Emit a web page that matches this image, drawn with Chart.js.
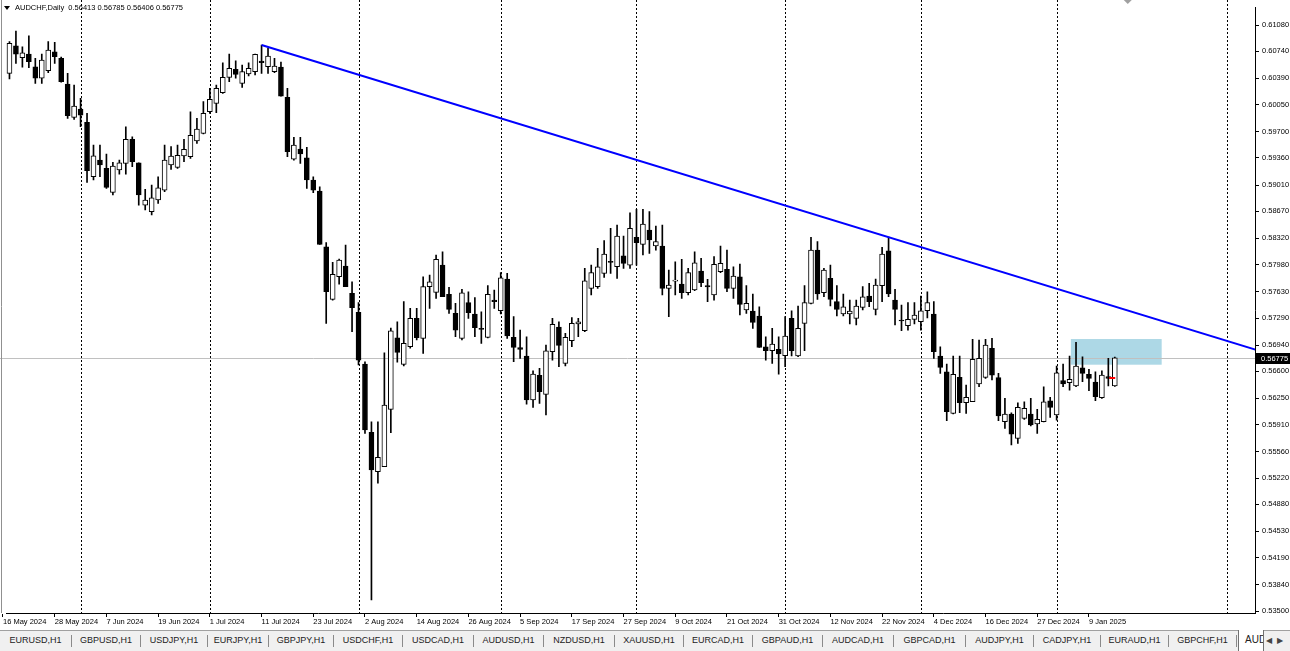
<!doctype html>
<html lang="en">
<head>
<meta charset="utf-8">
<title>AUDCHF,Daily</title>
<script src="https://cdn.jsdelivr.net/npm/chart.js@4.4.1/dist/chart.umd.min.js"></script>
<style>
  html, body { margin: 0; padding: 0; background: #fff; }
  #wrap { position: relative; width: 1290px; height: 651px; overflow: hidden; }
  #c { position: absolute; left: 0; top: 0; }
  #tabs { position: absolute; left: 0; top: 630px; width: 1290px; height: 21px; background: #f0f0f0;
          border-top: 1px solid #a0a0a0; box-sizing: border-box;
          font: 9px "Liberation Sans", Arial, sans-serif; color: #222; }
  .tab { position: absolute; top: 0; height: 20px; line-height: 19px; text-align: center; white-space: nowrap; }
  .sep { position: absolute; top: 4px; width: 1px; height: 12px; background: #8a8a8a; }
  .active { background: #fff; border-left: 1px solid #707070; border-right: 1px solid #707070; overflow: hidden;
            text-align: left; padding-left: 6px; box-sizing: border-box; top: -1px; height: 21px; font-size: 10px; }
  .arrows { position: absolute; top: 0; right: 0; width: 26px; height: 20px; line-height: 19px; font-size: 8px; color: #444; }
</style>
</head>
<body>
<div id="wrap">
  <canvas id="c" width="1290" height="630"></canvas>
  <div id="tabs"></div>
</div>
<script>
// ---- data (one entry per bar, 16 May 2024 .. 15 Jan 2025)
const symbol = 'AUDCHF';
const open = [
0.60329, 0.60455, 0.60812, 0.60656, 0.60704, 0.60540, 0.60391, 0.60489, 0.60734, 0.60648,
0.60316, 0.59886, 0.59994, 0.59821, 0.59117, 0.59333, 0.59226, 0.58916, 0.59204, 0.59291,
0.59601, 0.59298, 0.58751, 0.58665, 0.58816, 0.58945, 0.59269, 0.59239, 0.59385, 0.59376,
0.59579, 0.59679, 0.59958, 0.60067, 0.60204, 0.60403, 0.60507, 0.60325, 0.60446, 0.60476,
0.60614, 0.60540, 0.60476, 0.60536, 0.60145, 0.59343, 0.59476, 0.59363, 0.59075, 0.58932,
0.58212, 0.57531, 0.57824, 0.57962, 0.57609, 0.57363, 0.56695, 0.55811, 0.55302, 0.55366,
0.56109, 0.57035, 0.56691, 0.56918, 0.57286, 0.57027, 0.57695, 0.57622, 0.57975, 0.57596,
0.57350, 0.57027, 0.57488, 0.57342, 0.57156, 0.57040, 0.57522, 0.57384, 0.57794, 0.57040,
0.56906, 0.56798, 0.56229, 0.56549, 0.56303, 0.56854, 0.57173, 0.56704, 0.56996, 0.57212,
0.57125, 0.57674, 0.57695, 0.57868, 0.58023, 0.57953, 0.58095, 0.57975, 0.58334, 0.58243,
0.58428, 0.58221, 0.58221, 0.57674, 0.57768, 0.57730, 0.57617, 0.57652, 0.57898, 0.57708,
0.57587, 0.57889, 0.57920, 0.57674, 0.57824, 0.57393, 0.57380, 0.57316, 0.56918, 0.56867,
0.56885, 0.56802, 0.57286, 0.56798, 0.57221, 0.57480, 0.58169, 0.57617, 0.57803, 0.57501,
0.57342, 0.57342, 0.57286, 0.57428, 0.57574, 0.57402, 0.57708, 0.58160, 0.57522, 0.57264,
0.57190, 0.57273, 0.57242, 0.57384, 0.57342, 0.56798, 0.56595, 0.56057, 0.56523, 0.56194,
0.56207, 0.56436, 0.56523, 0.56898, 0.56518, 0.55949, 0.56048, 0.55733, 0.55992, 0.56048,
0.55919, 0.55949, 0.56220, 0.56035, 0.56479, 0.56453, 0.56410, 0.56647, 0.56561, 0.56462,
0.56259, 0.56531, 0.56413
];
const high = [
0.60549, 0.60864, 0.61002, 0.60799, 0.60941, 0.60649, 0.60704, 0.60864, 0.60856, 0.60665,
0.60455, 0.60303, 0.60132, 0.59937, 0.59527, 0.59527, 0.59411, 0.59303, 0.59333, 0.59764,
0.59635, 0.59298, 0.58954, 0.59010, 0.59117, 0.59527, 0.59506, 0.59527, 0.59601, 0.59958,
0.59872, 0.60088, 0.60261, 0.60303, 0.60592, 0.60704, 0.60618, 0.60562, 0.60592, 0.60704,
0.60821, 0.60778, 0.60649, 0.60601, 0.60261, 0.59627, 0.59627, 0.59498, 0.59117, 0.58988,
0.58264, 0.58010, 0.58053, 0.58234, 0.57759, 0.57488, 0.56724, 0.55948, 0.55948, 0.56841,
0.57160, 0.57242, 0.57501, 0.57415, 0.57415, 0.57824, 0.57846, 0.58105, 0.58147, 0.57687,
0.57480, 0.57661, 0.57630, 0.57553, 0.57371, 0.57708, 0.57652, 0.57876, 0.57868, 0.57307,
0.57134, 0.57048, 0.56608, 0.56639, 0.56940, 0.57286, 0.57242, 0.57092, 0.57294, 0.57286,
0.57932, 0.57975, 0.58191, 0.58290, 0.58450, 0.58493, 0.58350, 0.58652, 0.58696, 0.58696,
0.58665, 0.58480, 0.58493, 0.57911, 0.58018, 0.58049, 0.57932, 0.58147, 0.58062, 0.57790,
0.58083, 0.58221, 0.58169, 0.57953, 0.57988, 0.57708, 0.57600, 0.57436, 0.57048, 0.57156,
0.57048, 0.57307, 0.57384, 0.57445, 0.57708, 0.58334, 0.58277, 0.57932, 0.57975, 0.57708,
0.57600, 0.57522, 0.57522, 0.57695, 0.57738, 0.57794, 0.58204, 0.58337, 0.57661, 0.57458,
0.57488, 0.57488, 0.57574, 0.57630, 0.57501, 0.56918, 0.56695, 0.56798, 0.56798, 0.56423,
0.57014, 0.57005, 0.57014, 0.57027, 0.56574, 0.56251, 0.56065, 0.56194, 0.56207, 0.56251,
0.56109, 0.56401, 0.56264, 0.56669, 0.56695, 0.56798, 0.56975, 0.56789, 0.56626, 0.56595,
0.56608, 0.56768, 0.56785
];
const low = [
0.60136, 0.60382, 0.60584, 0.60533, 0.60527, 0.60325, 0.60325, 0.60463, 0.60584, 0.60342,
0.59872, 0.59860, 0.59764, 0.59045, 0.59075, 0.59117, 0.58967, 0.58881, 0.59152, 0.59152,
0.59247, 0.58751, 0.58687, 0.58622, 0.58773, 0.58923, 0.59213, 0.59226, 0.59311, 0.59355,
0.59549, 0.59670, 0.59937, 0.59945, 0.60196, 0.60346, 0.60391, 0.60274, 0.60420, 0.60433,
0.60455, 0.60455, 0.60463, 0.60161, 0.59376, 0.59333, 0.59291, 0.58967, 0.58910, 0.58243,
0.57221, 0.57522, 0.57729, 0.57695, 0.57112, 0.56682, 0.55798, 0.53642, 0.55152, 0.55366,
0.55806, 0.56720, 0.56669, 0.56901, 0.57005, 0.56833, 0.57415, 0.57544, 0.57565, 0.57350,
0.57048, 0.57005, 0.57286, 0.57048, 0.56962, 0.57031, 0.57415, 0.57342, 0.57027, 0.56724,
0.56768, 0.56177, 0.56135, 0.56186, 0.56035, 0.56746, 0.56660, 0.56669, 0.56918, 0.57048,
0.57112, 0.57587, 0.57674, 0.57816, 0.57868, 0.57803, 0.57932, 0.57932, 0.57975, 0.58105,
0.58127, 0.58169, 0.57587, 0.57307, 0.57587, 0.57544, 0.57587, 0.57643, 0.57695, 0.57501,
0.57522, 0.57876, 0.57630, 0.57544, 0.57329, 0.57350, 0.57156, 0.56911, 0.56746, 0.56704,
0.56565, 0.56660, 0.56798, 0.56789, 0.56867, 0.57471, 0.57531, 0.57565, 0.57445, 0.57316,
0.57316, 0.57212, 0.57199, 0.57393, 0.57436, 0.57329, 0.57501, 0.57565, 0.57199, 0.57125,
0.57134, 0.57212, 0.57134, 0.57290, 0.56768, 0.56574, 0.55961, 0.56048, 0.56065, 0.56057,
0.56207, 0.56401, 0.56510, 0.56488, 0.55961, 0.55863, 0.55647, 0.55669, 0.55979, 0.55893,
0.55798, 0.55945, 0.56005, 0.55970, 0.56401, 0.56358, 0.56401, 0.56466, 0.56349, 0.56220,
0.56251, 0.56410, 0.56406
];
const close = [
0.60524, 0.60843, 0.60704, 0.60721, 0.60605, 0.60391, 0.60627, 0.60756, 0.60669, 0.60346,
0.59906, 0.60032, 0.59915, 0.59195, 0.59389, 0.59269, 0.58980, 0.59256, 0.59298, 0.59601,
0.59311, 0.58881, 0.58816, 0.58846, 0.58975, 0.59333, 0.59385, 0.59394, 0.59472, 0.59653,
0.59735, 0.59937, 0.60119, 0.60261, 0.60403, 0.60520, 0.60442, 0.60476, 0.60520, 0.60700,
0.60592, 0.60679, 0.60549, 0.60161, 0.59441, 0.59527, 0.59411, 0.59075, 0.58945, 0.58243,
0.57630, 0.57855, 0.58040, 0.57695, 0.57423, 0.56746, 0.55841, 0.55324, 0.55488, 0.56164,
0.57125, 0.56846, 0.56962, 0.57286, 0.57035, 0.57695, 0.57759, 0.58049, 0.57565, 0.57402,
0.57134, 0.57617, 0.57358, 0.57164, 0.57143, 0.57596, 0.57501, 0.57811, 0.57057, 0.56911,
0.56885, 0.56229, 0.56566, 0.56336, 0.56867, 0.57209, 0.56937, 0.57040, 0.57222, 0.57242,
0.57772, 0.57876, 0.57953, 0.58118, 0.58010, 0.58350, 0.57997, 0.58450, 0.58264, 0.58506,
0.58299, 0.58277, 0.57674, 0.57716, 0.57781, 0.57617, 0.57876, 0.58005, 0.57746, 0.57691,
0.57984, 0.57997, 0.57674, 0.57833, 0.57467, 0.57480, 0.57234, 0.56911, 0.56867, 0.56953,
0.56824, 0.57057, 0.56867, 0.57156, 0.57488, 0.58169, 0.57600, 0.57911, 0.57531, 0.57402,
0.57436, 0.57380, 0.57445, 0.57565, 0.57501, 0.57716, 0.58118, 0.57600, 0.57402, 0.57251,
0.57273, 0.57329, 0.57384, 0.57488, 0.56854, 0.56652, 0.56078, 0.56561, 0.56194, 0.56264,
0.56755, 0.56768, 0.56940, 0.56552, 0.56022, 0.56048, 0.55789, 0.56135, 0.56122, 0.55906,
0.55979, 0.56207, 0.56135, 0.56582, 0.56436, 0.56497, 0.56669, 0.56574, 0.56510, 0.56272,
0.56552, 0.56510, 0.56775
];

// date labels, one every 8 bars
const xLabels = ['16 May 2024', '28 May 2024', '7 Jun 2024', '19 Jun 2024', '1 Jul 2024', '11 Jul 2024',
  '23 Jul 2024', '2 Aug 2024', '14 Aug 2024', '26 Aug 2024', '5 Sep 2024', '17 Sep 2024', '27 Sep 2024',
  '9 Oct 2024', '21 Oct 2024', '31 Oct 2024', '12 Nov 2024', '22 Nov 2024', '4 Dec 2024', '16 Dec 2024',
  '27 Dec 2024', '9 Jan 2025'];
const labelStep = 8;
const yTicks = [0.61080, 0.60740, 0.60390, 0.60050, 0.59700, 0.59360, 0.59010, 0.58670, 0.58320, 0.57980,
  0.57630, 0.57290, 0.56940, 0.56600, 0.56250, 0.55910, 0.55560, 0.55220, 0.54880, 0.54530, 0.54190,
  0.53840, 0.53500];
// period separators (first bar of each month, bar index)
const monthStarts = [12, 32, 55, 77, 98, 121, 142, 163, 189.4];
// drawn objects
const trendline = [[40, 0.60821], [200, 0.56720]];
const zone = [165.2, 179.25, 0.56686, 0.57018]; // from bar, to bar, low, high
const bid = 0.56775;
const tradeMark = [[171.6, 0.56515]];
const tabs = ['EURUSD,H1', 'GBPUSD,H1', 'USDJPY,H1', 'EURJPY,H1', 'GBPJPY,H1', 'USDCHF,H1', 'USDCAD,H1',
  'AUDUSD,H1', 'NZDUSD,H1', 'XAUUSD,H1', 'EURCAD,H1', 'GBPAUD,H1', 'AUDCAD,H1', 'GBPCAD,H1', 'AUDJPY,H1',
  'CADJPY,H1', 'EURAUD,H1', 'GBPCHF,H1'];
const tabSeps = [71, 140, 207, 268, 333, 402, 473, 543, 614, 683, 752, 822, 893, 965, 1033, 1100, 1168, 1236];

// screen scale of the terminal: first bar at x=3, 6.464 px per bar, 0.61080 at y=25, 7731 px per price unit
const firstBarPx = 3, barPx = 6.464, topTickPx = 25, pxPerPrice = 7731;

const FONT = '"Liberation Sans", Arial, sans-serif';
Chart.defaults.font.family = FONT;
Chart.defaults.font.size = 7.5;
Chart.defaults.color = '#000';

const bodies = open.map((o, i) => ({ x: i, y: [o, close[i]] }));
const wicks = low.map((l, i) => ({ x: i, y: [l, high[i]] }));
const bodyFill = open.map((o, i) => close[i] >= o ? '#ffffff' : '#000000');

const mtPlugin = {
  id: 'mt',
  beforeDatasetsDraw(chart) {
    const { ctx, chartArea: a, scales: { x, y } } = chart;
    ctx.save();
    // rectangle object
    const zx0 = x.getPixelForValue(zone[0]), zx1 = x.getPixelForValue(zone[1]);
    const zy0 = y.getPixelForValue(zone[3]), zy1 = y.getPixelForValue(zone[2]);
    ctx.fillStyle = '#add8e6';
    ctx.fillRect(zx0, zy0, zx1 - zx0, zy1 - zy0);
    // month separators
    ctx.strokeStyle = '#000';
    ctx.lineWidth = 1;
    ctx.setLineDash([2, 2]);
    monthStarts.forEach(m => {
      const px = Math.round(x.getPixelForValue(m)) + 0.5;
      ctx.beginPath(); ctx.moveTo(px, 0); ctx.lineTo(px, a.bottom); ctx.stroke();
    });
    ctx.setLineDash([]);
    // bid line
    const by = Math.round(y.getPixelForValue(bid)) + 0.5;
    ctx.strokeStyle = '#c0c0c0';
    ctx.beginPath(); ctx.moveTo(0, by); ctx.lineTo(a.right, by); ctx.stroke();
    // left frame
    ctx.strokeStyle = '#909090';
    ctx.beginPath(); ctx.moveTo(1.5, 0); ctx.lineTo(1.5, a.bottom); ctx.stroke();
    ctx.restore();
  },
  afterDraw(chart) {
    const { ctx, chartArea: a, scales: { x, y } } = chart;
    const n = close.length - 1;
    ctx.save();
    // title
    ctx.fillStyle = '#000';
    ctx.beginPath(); ctx.moveTo(4, 6); ctx.lineTo(10, 6); ctx.lineTo(7, 10); ctx.closePath(); ctx.fill();
    ctx.font = '7.5px ' + FONT;
    ctx.textBaseline = 'middle';
    ctx.textAlign = 'left';
    ctx.fillText(symbol + ',Daily  ' + [open[n], high[n], low[n], close[n]].map(v => v.toFixed(5)).join(' '), 15, 8);
    // bid price box on the axis
    const by = Math.round(y.getPixelForValue(bid));
    ctx.fillStyle = '#000';
    ctx.fillRect(a.right + 1, by - 5, 34, 11);
    ctx.fillStyle = '#fff';
    ctx.fillText(bid.toFixed(5), a.right + 6, by + 0.5);
    // chart shift marker
    const sx = x.getPixelForValue(174);
    ctx.fillStyle = '#a0a0a0';
    ctx.beginPath(); ctx.moveTo(sx - 4, 0); ctx.lineTo(sx + 4, 0); ctx.lineTo(sx, 4); ctx.closePath(); ctx.fill();
    ctx.restore();
  }
};

const chart = new Chart(document.getElementById('c'), {
  type: 'bar',
  data: {
    datasets: [
      { type: 'line', data: trendline.map(p => ({ x: p[0], y: p[1] })), borderColor: '#0000ff', borderWidth: 2,
        pointRadius: 0, order: 0 },
      { type: 'scatter', data: tradeMark.map(p => ({ x: p[0], y: p[1] })), pointStyle: 'line', pointRadius: 3,
        borderColor: '#ff0000', borderWidth: 2, order: 0 },
      { data: bodies, backgroundColor: bodyFill, borderColor: '#000', borderWidth: 1, borderSkipped: false,
        barThickness: 5, grouped: false, order: 1 },
      { data: wicks, backgroundColor: '#000', borderWidth: 0, barThickness: 1, grouped: false, order: 2 }
    ]
  },
  options: {
    responsive: false,
    animation: false,
    events: [],
    layout: { padding: { left: 2, top: 0, right: 0, bottom: 0 } },
    plugins: { legend: { display: false }, tooltip: { enabled: false } },
    scales: {
      x: {
        type: 'linear', min: -0.155, max: 193.69, offset: false,
        grid: { drawOnChartArea: false, drawTicks: true, tickLength: 4, color: '#000', offset: false },
        border: { display: true, color: '#000' },
        afterBuildTicks: s => { s.ticks = xLabels.map((t, k) => ({ value: k * labelStep })); },
        afterFit: s => { s.height = 17; },
        ticks: { autoSkip: false, maxRotation: 0, minRotation: 0, align: 'start', padding: 0,
                 callback: (v, i) => xLabels[i] }
      },
      y: {
        type: 'linear', position: 'right', min: 0.53474, max: 0.61403,
        grid: { drawOnChartArea: false, drawTicks: true, tickLength: 4, color: '#000' },
        border: { display: true, color: '#000' },
        afterBuildTicks: s => { s.ticks = yTicks.map(v => ({ value: v })); },
        afterFit: s => { s.width = 35; },
        ticks: { autoSkip: false, padding: 3, callback: v => v.toFixed(5) }
      }
    }
  },
  plugins: [mtPlugin]
});

// fit the scale ranges to the plot area that the layout produced, so bars land where the terminal drew them
const area = chart.chartArea;
chart.options.scales.x.min = (area.left - firstBarPx) / barPx;
chart.options.scales.x.max = (area.right - firstBarPx) / barPx;
chart.options.scales.y.max = yTicks[0] + (topTickPx - area.top) / pxPerPrice;
chart.options.scales.y.min = yTicks[0] - (area.bottom - topTickPx) / pxPerPrice;
chart.update();

// symbol tabs under the chart
const bar = document.getElementById('tabs');
let left = 0;
tabs.forEach((t, i) => {
  const d = document.createElement('div');
  d.className = 'tab';
  d.style.left = left + 'px';
  d.style.width = (tabSeps[i] - left) + 'px';
  d.textContent = t;
  bar.appendChild(d);
  const s = document.createElement('div');
  s.className = 'sep';
  s.style.left = tabSeps[i] + 'px';
  bar.appendChild(s);
  left = tabSeps[i] + 1;
});
const act = document.createElement('div');
act.className = 'tab active';
act.style.left = (left + 1) + 'px';
act.style.width = (1264 - left - 1) + 'px';
act.textContent = symbol + ',Daily';
bar.appendChild(act);
const arr = document.createElement('div');
arr.className = 'arrows';
arr.innerHTML = '&nbsp;&#9664;&nbsp;&nbsp;&#9654;';
bar.appendChild(arr);
</script>
</body>
</html>
